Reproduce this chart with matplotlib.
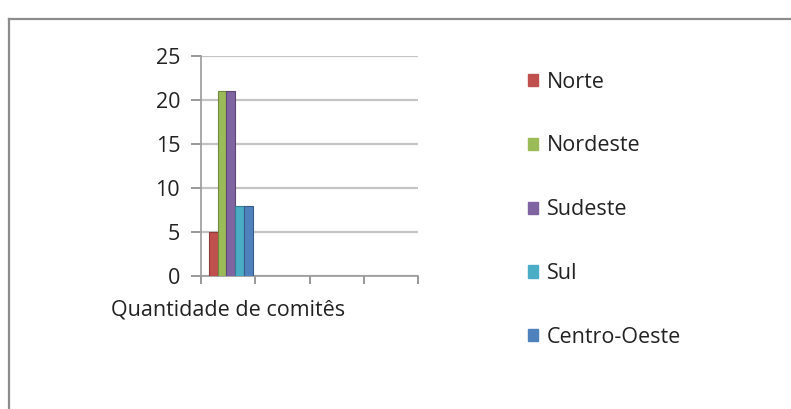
import matplotlib
matplotlib.use("Agg")
import matplotlib.pyplot as plt
from matplotlib.patches import Patch
from matplotlib.lines import Line2D
import numpy as np

plt.rcParams['font.family'] = ['Open Sans', 'DejaVu Sans']

category = "Quantidade de comitês"
regions = ["Norte", "Nordeste", "Sudeste", "Sul", "Centro-Oeste"]
values = [5, 21, 21, 8, 8]
colors = ["#C0504D", "#9BBB59", "#8064A2", "#4BACC6", "#4F81BD"]
edge_colors = ["#8E3A38", "#71893F", "#5C4876", "#357E92", "#385D8A"]
yticks = [0, 5, 10, 15, 20, 25]

W, H = 791, 409
FS = 15.5
fig = plt.figure(figsize=(W / 100, H / 100), dpi=100)
ax = fig.add_axes([201 / W, 1 - 276 / H, (418 - 201) / W, (276 - 56) / H])

n = len(values)
group_w = 0.8
bw = group_w / n
offset = 0.05
xs = offset - group_w / 2 + bw / 2 + np.arange(n) * bw
for x, v, c, ec in zip(xs, values, colors, edge_colors):
    ax.bar(x, v, width=bw, color=c, edgecolor=ec, linewidth=0.8, zorder=3)

ax.set_xlim(-0.5, 3.5)
ax.set_ylim(0, 25)
ax.set_yticks(yticks)
ax.set_yticklabels([str(t) for t in yticks], fontsize=FS, color="#222222")
ax.yaxis.grid(True, color="#C4C4C4", linewidth=1.6, zorder=0)
ax.set_axisbelow(True)

ax.set_xticks([-0.5, 0.5, 1.5, 2.5, 3.5])
ax.set_xticklabels([])
ax.set_xticks([0], minor=True)
ax.set_xticklabels([category], minor=True, fontsize=FS, color="#222222")
ax.tick_params(axis='x', which='minor', length=0, pad=17)
ax.tick_params(axis='x', which='major', length=6, color="#888888", width=1.2)
ax.tick_params(axis='y', length=7, color="#888888", width=1.2, pad=8)

for s in ["top", "right"]:
    ax.spines[s].set_visible(False)
for s in ["left", "bottom"]:
    ax.spines[s].set_color("#999999")
    ax.spines[s].set_linewidth(1.2)

handles = [Patch(facecolor=c, edgecolor=c) for c in colors]
leg = fig.legend(handles, regions, loc="upper left",
                 bbox_to_anchor=(519 / W, 1 - 63 / H),
                 frameon=False, fontsize=FS, handlelength=0.5, handleheight=0.5,
                 handletextpad=0.4, labelspacing=1.99, borderaxespad=0)
for t in leg.get_texts():
    t.set_color("#222222")

fx = 9 / W
fy = 1 - 19 / H
fig.add_artist(Line2D([fx, fx], [0, fy], transform=fig.transFigure, color="#8C8C8C", linewidth=1.6))
fig.add_artist(Line2D([fx, 1], [fy, fy], transform=fig.transFigure, color="#8C8C8C", linewidth=1.6))

fig.savefig("out.png", dpi=100)
